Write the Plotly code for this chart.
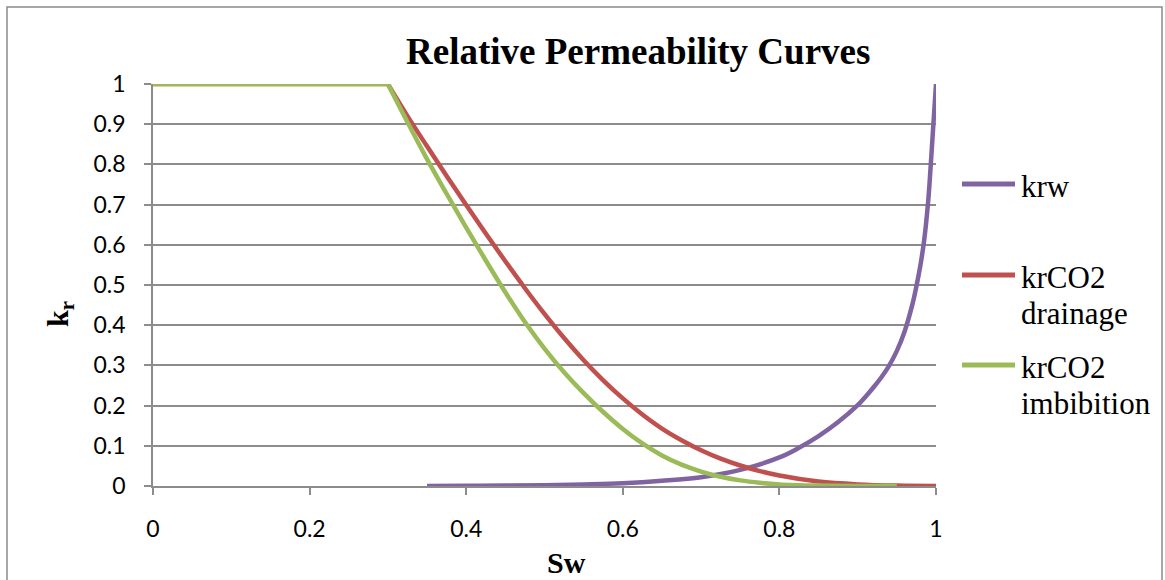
import plotly.graph_objects as go

# Water saturation grid and relative permeabilities
sw_krw = [0.35, 0.40, 0.45, 0.50, 0.55, 0.60, 0.65, 0.70, 0.75, 0.80, 0.825, 0.85,
          0.875, 0.90, 0.91, 0.92, 0.93, 0.94, 0.95, 0.96, 0.97, 0.975, 0.98, 0.985,
          0.99, 0.993, 0.996, 1.0]
krw = [0.0, 0.0005, 0.001, 0.002, 0.004, 0.007, 0.013, 0.022, 0.040, 0.071, 0.095, 0.124,
       0.159, 0.201, 0.222, 0.245, 0.270, 0.299, 0.336, 0.385, 0.453, 0.497, 0.548, 0.613,
       0.708, 0.79, 0.88, 1.0]

sw_drain = [0.0, 0.30, 0.325, 0.35, 0.375, 0.40, 0.425, 0.45, 0.475, 0.50, 0.525, 0.55,
            0.575, 0.60, 0.625, 0.65, 0.675, 0.70, 0.725, 0.75, 0.775, 0.80, 0.85,
            0.90, 0.95, 1.0]
kr_drain = [1.0, 1.0, 0.920, 0.845, 0.771, 0.699, 0.628, 0.559, 0.492, 0.428, 0.368, 0.313,
            0.263, 0.218, 0.178, 0.143, 0.114, 0.089, 0.068, 0.051, 0.037, 0.026, 0.011,
            0.004, 0.001, 0.0]

sw_imb = [0.0, 0.30, 0.325, 0.35, 0.375, 0.40, 0.425, 0.45, 0.475, 0.50, 0.525, 0.55,
          0.575, 0.60, 0.625, 0.65, 0.675, 0.70, 0.725, 0.75, 0.775, 0.80, 0.85,
          0.90, 0.95]
kr_imb = [1.0, 1.0, 0.905, 0.813, 0.727, 0.643, 0.561, 0.482, 0.408, 0.342, 0.283, 0.231,
          0.184, 0.142, 0.106, 0.076, 0.053, 0.036, 0.023, 0.014, 0.008, 0.004, 0.001,
          0.0, 0.0]

series_names = ["krw", "krCO2<br>drainage", "krCO2<br>imbibition"]
series_colors = ["#8064A2", "#C0504D", "#9BBB59"]
x_ticks = [0, 0.2, 0.4, 0.6, 0.8, 1.0]
y_ticks = [0, 0.1, 0.2, 0.3, 0.4, 0.5, 0.6, 0.7, 0.8, 0.9, 1.0]

W, H = 1165, 580
L, R, T, B = 153, 229, 84, 94
PW, PH = W - L - R, H - T - B


def px_x(p):
    return (p - L) / PW


def px_y(p):
    return (H - B - p) / PH


serif = "Liberation Serif, Times New Roman, serif"
sans = "Lato, Calibri, sans-serif"
grid = "#8C8C8C"


def add_curve(fig, xs, ys, col):
    # Split the series at its last plateau point so the corner stays sharp
    # while the decaying part is drawn as a smooth curve.
    k = 0
    while k + 1 < len(ys) and ys[k + 1] == ys[0]:
        k += 1
    if k > 0:
        fig.add_trace(go.Scatter(x=xs[:k + 1], y=ys[:k + 1], mode="lines",
                                 line=dict(color=col, width=4.5), cliponaxis=False,
                                 showlegend=False, hoverinfo="skip"))
    fig.add_trace(go.Scatter(x=xs[k:], y=ys[k:], mode="lines",
                             line=dict(color=col, width=4.5, shape="spline",
                                       smoothing=1.0),
                             cliponaxis=False, showlegend=False))


fig = go.Figure()
for xs, ys, col in zip([sw_krw, sw_drain, sw_imb], [krw, kr_drain, kr_imb], series_colors):
    add_curve(fig, xs, ys, col)

shapes = [dict(type="rect", xref="paper", yref="paper",
               x0=px_x(7), x1=px_x(1162), y0=px_y(620), y1=px_y(7),
               line=dict(color="#8A8A8A", width=1.5), layer="below")]
annotations = [
    dict(text="<b>Relative Permeability Curves</b>", xref="paper", yref="paper",
         x=px_x(638), y=px_y(52), xanchor="center", yanchor="middle", showarrow=False,
         font=dict(family=serif, size=37, color="black")),
    dict(text="<b>Sw</b>", xref="paper", yref="paper",
         x=px_x(566), y=px_y(562), xanchor="center", yanchor="middle", showarrow=False,
         font=dict(family=serif, size=30, color="black")),
    dict(text="<b>k<sub>r</sub></b>", xref="paper", yref="paper", textangle=-90,
         x=px_x(60), y=px_y(314), xanchor="center", yanchor="middle", showarrow=False,
         font=dict(family=serif, size=30, color="black")),
]

# Legend drawn beside the plot area
legend_y = [184, 275, 365]
for name, col, ly in zip(series_names, series_colors, legend_y):
    shapes.append(dict(type="line", xref="paper", yref="paper",
                       x0=px_x(962), x1=px_x(1015), y0=px_y(ly), y1=px_y(ly),
                       line=dict(color=col, width=5)))
    for i, part in enumerate(name.split("<br>")):
        annotations.append(dict(text=part, xref="paper", yref="paper",
                                x=px_x(1019), y=px_y(ly + 2 + 36 * i),
                                xanchor="left", yanchor="middle", showarrow=False,
                                font=dict(family=serif, size=31, color="black")))

fig.update_layout(
    width=W, height=H,
    margin=dict(l=L, r=R, t=T, b=B, pad=0),
    paper_bgcolor="white", plot_bgcolor="white",
    showlegend=False,
    shapes=shapes, annotations=annotations,
    xaxis=dict(range=[0, 1], tickvals=x_ticks, showgrid=False, zeroline=False,
               showline=True, linecolor=grid, linewidth=1.5,
               ticks="outside", ticklen=7, tickwidth=1.5, tickcolor=grid,
               tickfont=dict(family=sans, size=23, color="black"),
               ticklabelstandoff=15),
    yaxis=dict(range=[0, 1], tickvals=y_ticks, showgrid=True, gridcolor=grid,
               gridwidth=1.5, zeroline=False, showline=True, linecolor=grid,
               linewidth=1.5, ticks="outside", ticklen=7, tickwidth=1.5, tickcolor=grid,
               tickfont=dict(family=sans, size=23, color="black"),
               ticklabelstandoff=14),
)

fig.write_html("out.html")
